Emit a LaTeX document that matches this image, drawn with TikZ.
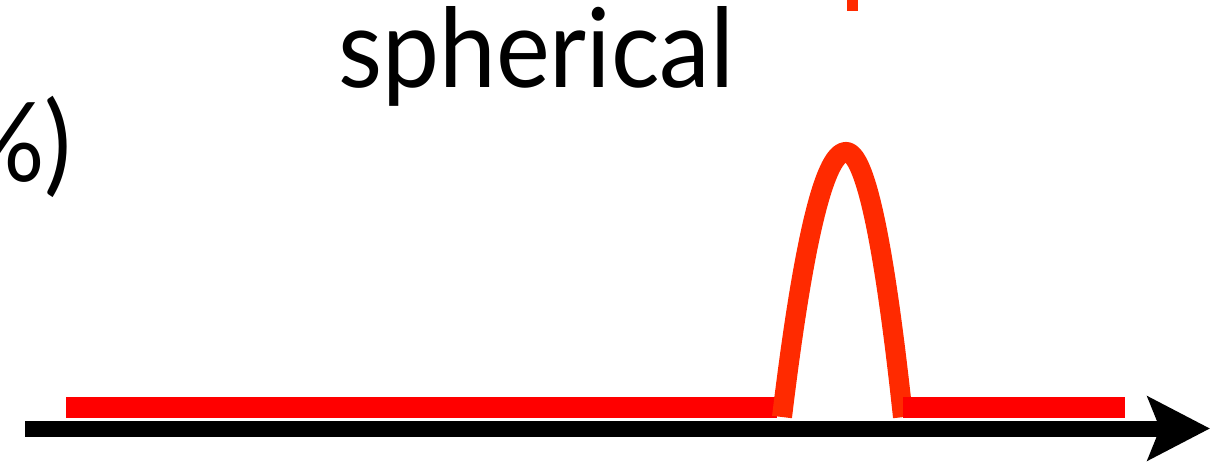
\documentclass[tikz,border=0pt]{standalone}
\usepackage{fontspec}
\setmainfont{Lato}
\usetikzlibrary{arrows.meta}
\definecolor{lineRed}{HTML}{FF0000}
\definecolor{bumpRed}{HTML}{FF2A00}
\begin{document}
\begin{tikzpicture}[x=1pt,y=-1pt,
  bigtext/.style={inner sep=0pt, font=\fontsize{110}{130}\selectfont, text=black},
  flatline/.style={line width=21pt, draw=lineRed},
  bumpline/.style={line width=20pt, draw=bumpRed},
  axisline/.style={line width=16pt, draw=black,
    -{Stealth[length=62pt,width=63pt,inset=12pt]}}]
\useasboundingbox (0,0) rectangle (1217,462);
% texts
\node[bigtext, anchor=base west] (title) at (338,88) {\scalebox{0.925}[1]{spherical}};
\node[bigtext, anchor=base east] (pct) at (72,182) {\scalebox{0.925}[1]{\%)}};
% top marker
\coordinate (mtop) at (852.5,-20);
\coordinate (mbot) at (852.5,11);
\draw[line width=11pt, draw=bumpRed] (mtop) -- (mbot);
% axis
\coordinate (ax0) at (25,428.5);
\coordinate (ax1) at (1210,428.5);
\draw[axisline] (ax0) -- (ax1);
% left flat
\coordinate (l0) at (66,407.5);
\coordinate (l1) at (777,407.5);
\draw[flatline] (l0) -- (l1);
% bump
\draw[bumpline] plot[domain=-64:0,samples=40] ({846+\x},{152+0.0647*\x*\x})
  -- plot[domain=0:57,samples=40] ({846+\x},{152+0.0816*\x*\x});
% right flat
\coordinate (r0) at (903,407.5);
\coordinate (r1) at (1125,407.5);
\draw[flatline] (r0) -- (r1);
\end{tikzpicture}
\end{document}
